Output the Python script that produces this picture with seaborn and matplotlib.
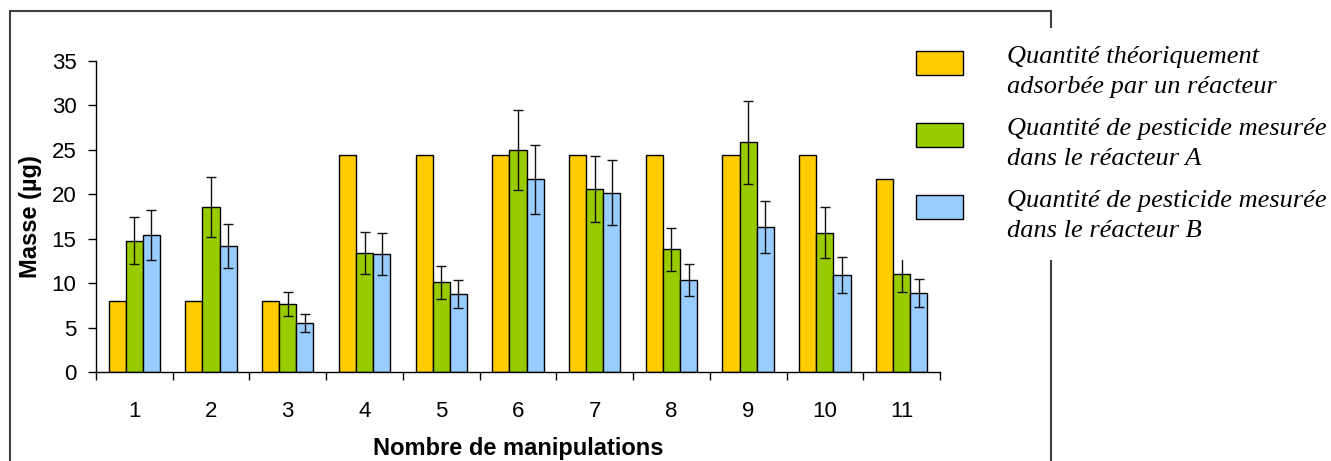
import numpy as np
import pandas as pd
import matplotlib
matplotlib.use("Agg")
import matplotlib.pyplot as plt
import seaborn as sns
from matplotlib.patches import Rectangle
from matplotlib.legend_handler import HandlerPatch
from matplotlib.ticker import FixedLocator

# Values
manipulations = ["1", "2", "3", "4", "5", "6", "7", "8", "9", "10", "11"]
series_names = [
    "Quantité théoriquement\nadsorbée par un réacteur",
    "Quantité de pesticide mesurée\ndans le réacteur A",
    "Quantité de pesticide mesurée\ndans le réacteur B",
]
theorique = [8.0, 8.0, 8.0, 24.4, 24.4, 24.4, 24.4, 24.4, 24.4, 24.4, 21.7]
reacteur_a = [14.8, 18.6, 7.6, 13.4, 10.1, 24.95, 20.6, 13.8, 25.85, 15.7, 11.0]
reacteur_b = [15.4, 14.2, 5.5, 13.3, 8.8, 21.7, 20.2, 10.35, 16.35, 10.9, 8.9]
err_a = [2.7, 3.4, 1.35, 2.4, 1.85, 4.5, 3.7, 2.45, 4.7, 2.85, 1.95]
err_b = [2.8, 2.5, 1.0, 2.4, 1.6, 3.9, 3.7, 1.85, 2.95, 2.0, 1.6]
colors = ["#FFCC00", "#99CC00", "#99CCFF"]

df = pd.DataFrame({
    "manip": manipulations * 3,
    "masse": theorique + reacteur_a + reacteur_b,
    "serie": [series_names[0]] * 11 + [series_names[1]] * 11 + [series_names[2]] * 11,
})

sns.set_style("white")
plt.rcParams["font.family"] = ["Liberation Sans", "DejaVu Sans"]
plt.rcParams["text.color"] = "black"
plt.rcParams["axes.labelcolor"] = "black"

fig = plt.figure(figsize=(13.31, 4.61), dpi=100)
ax = fig.add_axes([0.0721, 0.193, 0.6341, 0.6747])

sns.barplot(
    data=df, x="manip", y="masse", hue="serie",
    palette=colors, width=0.67, errorbar=None,
    edgecolor="black", linewidth=1, saturation=1, ax=ax,
)

# error bars on the measured series, placed on the drawn bars
for cont, errs in zip(ax.containers[1:], [err_a, err_b]):
    xs = [p.get_x() + p.get_width() / 2 for p in cont.patches]
    ys = [p.get_height() for p in cont.patches]
    ax.errorbar(xs, ys, yerr=errs, fmt="none", ecolor="#111111",
                elinewidth=1, capsize=3.3, capthick=1, zorder=5)

ax.set_xlim(-0.5, 10.5)
ax.set_ylim(0, 35)
ax.set_yticks(range(0, 36, 5))
ax.xaxis.set_minor_locator(FixedLocator(np.arange(-0.5, 11, 1)))
ax.tick_params(axis="x", which="major", length=0, pad=21, labelsize=16, colors="black")
ax.tick_params(axis="x", which="minor", length=6, width=1, direction="out", bottom=True, color="black")
ax.tick_params(axis="y", length=6, width=1, direction="out", left=True, pad=8, labelsize=16, colors="black")

sns.despine(ax=ax)
for s in ["left", "bottom"]:
    ax.spines[s].set_color("black")
    ax.spines[s].set_linewidth(1)

ax.set_xlabel("Nombre de manipulations", fontsize=17, fontweight="bold", labelpad=11)
ax.set_ylabel("Masse (µg)", fontsize=17, fontweight="bold", labelpad=7)

handles, labels = ax.get_legend_handles_labels()
ax.get_legend().remove()


def raised_rect(legend, orig_handle, xdescent, ydescent, width, height, fontsize):
    # align the swatch with the first line of the two-line label
    return Rectangle((-xdescent, -ydescent + 0.32 * fontsize), width, height)


leg = fig.legend(
    handles, labels, loc="upper left", bbox_to_anchor=(0.6741, 0.9393),
    bbox_transform=fig.transFigure, borderaxespad=0, borderpad=0.7,
    handlelength=1.78, handleheight=1.0, handletextpad=1.67, labelspacing=0.76,
    prop={"family": "Liberation Serif", "style": "italic", "size": 19},
    frameon=True, fancybox=False, facecolor="white", edgecolor="none", framealpha=1,
    handler_map={Rectangle: HandlerPatch(patch_func=raised_rect)},
)
for t in leg.get_texts():
    t.set_linespacing(1.45)

# outer chart frame
fig.patches.append(Rectangle((10 / 1331, -0.1), 1041 / 1331, (461 - 11) / 461 + 0.1,
                             transform=fig.transFigure, fill=False,
                             edgecolor="#404040", linewidth=1.5, zorder=-1))

fig.savefig("out.png", dpi=100)
